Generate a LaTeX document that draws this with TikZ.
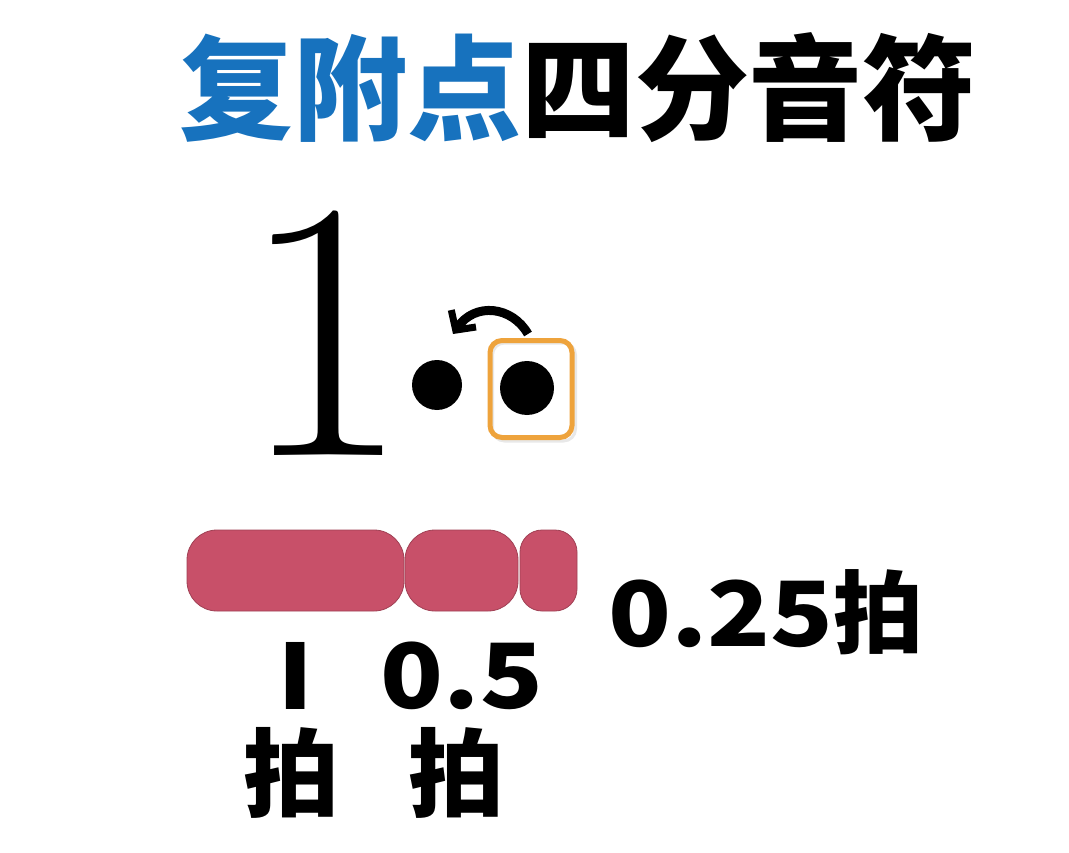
\documentclass[tikz,border=0pt]{standalone}
\usepackage{fontspec}
\newfontfamily\cjk{Noto Sans CJK SC Black}
\usetikzlibrary{arrows.meta}
\definecolor{tblue}{RGB}{23,114,190}
\definecolor{bar}{RGB}{200,80,105}
\definecolor{bord}{RGB}{238,163,60}
\newcommand{\widedig}[1]{\scalebox{1.15}[1]{#1}}
\tikzset{
  seg/.style={fill=bar, draw=bar!80!black, line width=0.8pt, rounded corners=30pt},
  lbl/.style={font=\cjk\fontsize{90}{94}\selectfont, inner sep=0pt},
  pai/.style={font=\cjk\fontsize{96}{100}\selectfont, inner sep=0pt},
  dot/.style={fill=black}
}
\begin{document}
\begin{tikzpicture}[x=1pt,y=-1pt]
\useasboundingbox[fill=white] (0,0) rectangle (1069,853);
% title
\node[inner sep=0pt, anchor=center] (title) at (578,88)
  {\cjk\fontsize{114}{118}\selectfont\textcolor{tblue}{复附点}四分音符};
% big one
\node[inner sep=0pt, anchor=base, font=\fontsize{370}{380}\selectfont] (one) at (325,455) {1};
% dots
\fill[dot] (437,385) circle (25) coordinate (d1);
\fill[dot] (527,388) circle (27) coordinate (d2);
\node[draw=black!15, line width=3pt, rounded corners=12pt, minimum width=83pt, minimum height=98pt, opacity=0.6] at (534,392) {};
\node[draw=bord, line width=5pt, rounded corners=12pt, minimum width=82pt, minimum height=97pt] (box) at (531,389) {};
\coordinate (as) at (528,334);
\coordinate (ae) at (453,334);
\draw[line width=9pt, -{Straight Barb[length=14pt,width=30pt,line width=7pt]}] (as) .. controls (512,306) and (475,302) .. (ae);
% bars
\draw[seg] (187,530) rectangle (404,611) coordinate (b1);
\draw[seg] (405,530) rectangle (518,611) coordinate (b2);
\draw[seg, rounded corners=22pt] (520,530) rectangle (577,611) coordinate (b3);
% labels
\node[lbl] (q) at (766,612) {\widedig{0.25}拍};
\node[lbl] (l1) at (296,676) {\widedig{I}};
\node[lbl] (l2) at (462,676) {\widedig{0.5}};
\node[pai] (p1) at (291,773) {拍};
\node[pai] (p2) at (456,773) {拍};
\end{tikzpicture}
\end{document}
